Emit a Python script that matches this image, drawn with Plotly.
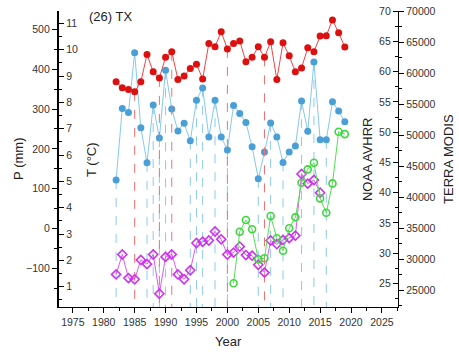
import plotly.graph_objects as go

years = list(range(1982, 2020))
temp_c = [8.78, 8.56, 8.49, 8.40, 8.78, 9.82, 9.16, 8.93, 9.71, 9.92,
          8.87, 9.00, 9.29, 9.45, 8.89, 10.24, 10.11, 10.68, 10.03, 10.24,
          10.33, 9.54, 9.71, 10.11, 9.71, 10.30, 8.87, 10.26, 9.77, 9.16,
          9.31, 10.07, 9.92, 10.52, 10.53, 11.13, 10.64, 10.10]
precip_mm = [122, 301, 291, 441, 253, 165, 310, 227, 397, 300,
             245, 264, 220, 322, 353, 230, 322, 230, 197, 309,
             289, 266, 205, 125, 192, 265, 230, 166, 192, 207,
             320, 244, 418, 223, 223, 318, 295, 268]
noaa_years = list(range(1982, 2016))
noaa_avhrr = [26.5, 29.8, 25.9, 25.7, 28.9, 28.2, 29.8, 23.3, 29.4, 29.8,
              26.5, 25.7, 27.2, 31.7, 31.9, 32.1, 33.6, 32.3, 29.8, 30.1,
              31.1, 29.7, 29.6, 28.1, 26.8, 32.1, 31.5, 32.2, 32.5, 32.9,
              43.1, 41.5, 42.1, 40.0]
modis_years = list(range(2001, 2020))
terra_modis = [26150, 34460, 36350, 34850, 30020, 30180, 36990, 33400, 31400, 35010,
               36780, 42350, 44510, 45570, 39840, 37520, 42250, 50560, 50190]
red_drop_years = [1985, 1989, 1991, 2000, 2006]
blue_drop_years = [1982, 1987, 1988, 1989, 1990, 1994, 1995, 1996, 1998, 2000,
                   2005, 2007, 2009, 2012, 2014, 2016]
x_ticks = list(range(1975, 2030, 5))
p_ticks = list(range(-100, 600, 100))
t_ticks = list(range(1, 12))
noaa_ticks = list(range(25, 75, 5))
modis_ticks = list(range(25000, 75000, 5000))

P_RANGE = [-197, 546]
T_RANGE = [0.23, 11.47]
N_RANGE = [21.12, 70.02]
M_RANGE = [22335, 70020]

FONT = "Liberation Sans, Arial, sans-serif"
TICKC = "#333333"

fig = go.Figure()

# drop lines
bx, by = [], []
for yr in blue_drop_years:
    v = precip_mm[years.index(yr)]
    bx += [yr, yr, None]
    by += [v, P_RANGE[0], None]
fig.add_trace(go.Scatter(x=bx, y=by, mode="lines", yaxis="y",
                         line=dict(color="#8ec9ec", width=1, dash="dash"),
                         hoverinfo="skip", showlegend=False))
rx, ry = [], []
for yr in red_drop_years:
    v = temp_c[years.index(yr)]
    rx += [yr, yr, None]
    ry += [v, T_RANGE[0], None]
fig.add_trace(go.Scatter(x=rx, y=ry, mode="lines", yaxis="y2",
                         line=dict(color="#f07070", width=1, dash="dash"),
                         hoverinfo="skip", showlegend=False))

fig.add_trace(go.Scatter(x=years, y=precip_mm, mode="lines+markers", yaxis="y",
                         line=dict(color="#86c8ef", width=1),
                         marker=dict(color="#4a9fd6", size=7),
                         name="P", showlegend=False))
fig.add_trace(go.Scatter(x=years, y=temp_c, mode="lines+markers", yaxis="y2",
                         line=dict(color="#ee4444", width=1),
                         marker=dict(color="#dd1010", size=7),
                         name="T", showlegend=False))
fig.add_trace(go.Scatter(x=noaa_years, y=noaa_avhrr, mode="lines+markers", yaxis="y3",
                         line=dict(color="#d95cf5", width=1),
                         marker=dict(symbol="diamond-open", color="#cc33ee", size=7,
                                     line=dict(width=1.6)),
                         name="NOAA AVHRR", showlegend=False))
fig.add_trace(go.Scatter(x=modis_years, y=terra_modis, mode="lines+markers", yaxis="y4",
                         line=dict(color="#55dd55", width=1),
                         marker=dict(symbol="circle-open", color="#3fd63f", size=7,
                                     line=dict(width=1.6)),
                         name="TERRA MODIS", showlegend=False))

axis_common = dict(showline=True, linecolor="black", linewidth=1.3, showgrid=False,
                   zeroline=False, tickcolor="black", automargin=False,
                   tickfont=dict(size=10.5, color=TICKC, family=FONT))

fig.update_layout(
    width=459, height=355,
    margin=dict(l=58, r=61, t=11, b=48),
    paper_bgcolor="white", plot_bgcolor="white",
    font=dict(family=FONT, color="#222222"),
    xaxis=dict(range=[1972.6, 2027.6], tickvals=x_ticks,
               ticks="outside", ticklen=5, tickwidth=1.2,
               minor=dict(dtick=2.5, tick0=1975, ticks="outside", ticklen=3, tickcolor="black"),
               **axis_common),
    yaxis=dict(range=P_RANGE, tickvals=p_ticks, side="left",
               ticks="outside", ticklen=5, tickwidth=1.2,
               minor=dict(tickvals=list(range(-150, 550, 100)), ticks="outside", ticklen=3, tickcolor="black"),
               **axis_common),
    # T axis: drawn on the left edge but with labels facing into the plot
    yaxis2=dict(range=T_RANGE, tickvals=t_ticks, overlaying="y", side="right",
                anchor="free", position=0,
                ticks="outside", ticklen=5, tickwidth=1.2,
                minor=dict(dtick=0.5, tick0=0.5, ticks="outside", ticklen=3, tickcolor="black"),
                **axis_common),
    # NOAA axis: drawn on the right edge with labels facing into the plot
    yaxis3=dict(range=N_RANGE, tickvals=noaa_ticks, overlaying="y", side="left",
                anchor="free", position=1,
                ticks="outside", ticklen=5, tickwidth=1.2,
                minor=dict(dtick=2.5, tick0=22.5, ticks="outside", ticklen=3, tickcolor="black"),
                **axis_common),
    yaxis4=dict(range=M_RANGE, tickvals=modis_ticks, tickformat="d", overlaying="y", side="right", anchor="x",
                ticks="outside", ticklen=5, tickwidth=1.2,
                minor=dict(dtick=2500, tick0=22500, ticks="outside", ticklen=3, tickcolor="black"),
                **axis_common),
)

ann_font = dict(family=FONT, size=13, color="#222222")
fig.add_annotation(text="(26) TX", xref="paper", yref="paper", x=0.085, y=0.98,
                   xanchor="left", yanchor="middle", showarrow=False, font=ann_font)
for txt, xp in [("P (mm)", -0.118), ("T (°C)", 0.097), ("NOAA AVHRR", 0.909), ("TERRA MODIS", 1.147)]:
    fig.add_annotation(text=txt, xref="paper", yref="paper", x=xp, y=0.5,
                       xanchor="center", yanchor="middle",
                       textangle=-90, showarrow=False, font=ann_font)
fig.add_annotation(text="Year", xref="paper", yref="paper", x=0.5, y=-0.115,
                   xanchor="center", yanchor="middle", showarrow=False, font=ann_font)

fig.write_html("out.html")
